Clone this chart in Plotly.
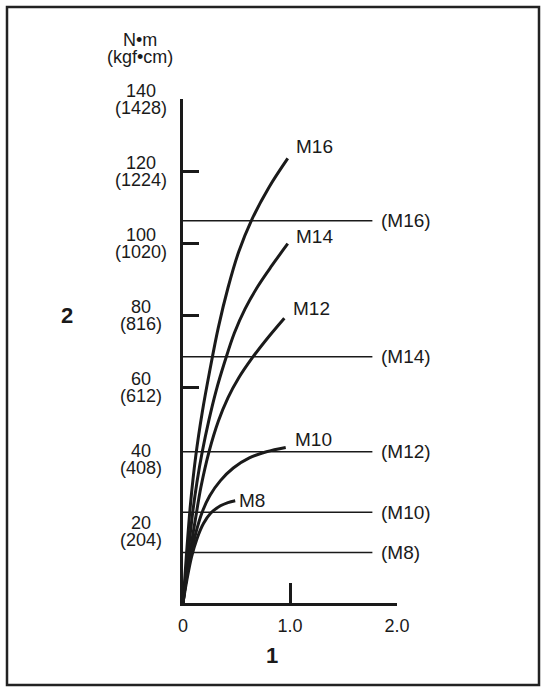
import plotly.graph_objects as go

# ---------------- data ----------------
curve_names = ["M16", "M14", "M12", "M10", "M8"]
m16_x = [0, 0.03, 0.07, 0.12, 0.18, 0.25, 0.33, 0.42, 0.52, 0.64, 0.80, 0.979]
m16_y = [0, 12.5, 27.5, 41, 53, 64.5, 76.5, 87.5, 97.5, 106.3, 115.3, 123.5]
m14_x = [0, 0.025, 0.05, 0.09, 0.13, 0.18, 0.24, 0.31, 0.39, 0.48, 0.58, 0.70, 0.83, 0.979]
m14_y = [0, 7, 14.2, 25, 33.5, 42, 50.5, 59, 67, 75, 81.7, 88, 93.7, 99.8]
m12_x = [0, 0.028, 0.065, 0.126, 0.168, 0.243, 0.33, 0.42, 0.52, 0.64, 0.78, 0.947]
m12_y = [0, 6.4, 13.9, 25.1, 32.3, 42, 50.5, 57, 62.5, 67.8, 73.2, 79.1]
m10_x = [0, 0.03, 0.07, 0.12, 0.18, 0.25, 0.35, 0.47, 0.62, 0.78, 0.96]
m10_y = [0, 6.4, 12.8, 19.5, 25.3, 29.8, 34.0, 37.5, 40.3, 42.0, 43.2]
m8_x = [0, 0.035, 0.08, 0.13, 0.19, 0.26, 0.35, 0.42, 0.488]
m8_y = [0, 6.2, 12.8, 17.8, 22.0, 25.0, 27.0, 27.9, 28.4]

limit_labels = ["(M16)", "(M14)", "(M12)", "(M10)", "(M8)"]
limit_values = [106.2, 68.4, 42.0, 25.2, 14.0]
limit_x_end = 1.77

y_tick_nm = [20, 40, 60, 80, 100, 120, 140]
y_tick_kgf = ["(204)", "(408)", "(612)", "(816)", "(1020)", "(1224)", "(1428)"]
y_tick_marks = [60, 80, 100, 120, 140]
x_tick_vals = [0, 1, 2]
x_tick_text = ["0", "1.0", "2.0"]

unit_top = "N•m"
unit_bottom = "(kgf•cm)"
y_title = "2"
x_title = "1"

# ---------------- style ----------------
FONT = "Liberation Sans, Arial, sans-serif"
INK = "#1a1a1a"
W, H = 546, 691
L, R, T, B = 183, 149, 99, 88
PW, PH = W - L - R, H - T - B

def px_to_paper_x(px):
    return (px - L) / PW

def py_to_paper_y(py):
    return (H - B - py) / PH

curves = [(m16_x, m16_y), (m14_x, m14_y), (m12_x, m12_y), (m10_x, m10_y), (m8_x, m8_y)]
label_shift = {"M16": (6, 12), "M14": (6, 7), "M12": (7, 10), "M10": (7, 8), "M8": (2, 0)}

fig = go.Figure()

for v in limit_values:
    fig.add_trace(go.Scatter(x=[0, limit_x_end], y=[v, v], mode="lines",
                             line=dict(color=INK, width=1.5), hoverinfo="skip",
                             showlegend=False))

for name, (xs, ys) in zip(curve_names, curves):
    fig.add_trace(go.Scatter(x=xs, y=ys, mode="lines", name=name,
                             line=dict(color=INK, width=3, shape="spline", smoothing=1.0),
                             showlegend=False))

annotations = []
for name, (xs, ys) in zip(curve_names, curves):
    dx, dy = label_shift[name]
    annotations.append(dict(x=xs[-1], y=ys[-1], xref="x", yref="y", text=name,
                            showarrow=False, xanchor="left", yanchor="middle",
                            xshift=dx, yshift=dy, font=dict(size=19, color=INK, family=FONT)))

for lab, v in zip(limit_labels, limit_values):
    annotations.append(dict(x=limit_x_end, y=v, xref="x", yref="y", text=lab,
                            showarrow=False, xanchor="left", yanchor="middle",
                            xshift=7, font=dict(size=19, color=INK, family=FONT)))

lab_x = px_to_paper_x(141)
for v, k in zip(y_tick_nm, y_tick_kgf):
    annotations.append(dict(x=lab_x, y=v, xref="paper", yref="y", text=str(v),
                            showarrow=False, xanchor="center", yanchor="middle",
                            yshift=8, font=dict(size=18, color=INK, family=FONT)))
    annotations.append(dict(x=lab_x, y=v, xref="paper", yref="y", text=k,
                            showarrow=False, xanchor="center", yanchor="middle",
                            yshift=-9, font=dict(size=18, color=INK, family=FONT)))

annotations.append(dict(x=px_to_paper_x(140), y=py_to_paper_y(40), xref="paper", yref="paper",
                        text=unit_top, showarrow=False, xanchor="center", yanchor="middle",
                        font=dict(size=18, color=INK, family=FONT)))
annotations.append(dict(x=px_to_paper_x(140), y=py_to_paper_y(57), xref="paper", yref="paper",
                        text=unit_bottom, showarrow=False, xanchor="center", yanchor="middle",
                        font=dict(size=18, color=INK, family=FONT)))
annotations.append(dict(x=px_to_paper_x(66.5), y=py_to_paper_y(315), xref="paper", yref="paper",
                        text="<b>" + y_title + "</b>", showarrow=False, xanchor="center",
                        yanchor="middle", font=dict(size=22, color=INK, family=FONT)))
annotations.append(dict(x=px_to_paper_x(271.5), y=py_to_paper_y(655), xref="paper", yref="paper",
                        text="<b>" + x_title + "</b>", showarrow=False, xanchor="center",
                        yanchor="middle", font=dict(size=22, color=INK, family=FONT)))

fig.update_layout(
    width=W, height=H,
    margin=dict(l=L, r=R, t=T, b=B, pad=0),
    paper_bgcolor="white", plot_bgcolor="white",
    showlegend=False,
    annotations=annotations,
    shapes=[dict(type="rect", xref="paper", yref="paper",
                 x0=px_to_paper_x(7), x1=px_to_paper_x(539),
                 y0=py_to_paper_y(685), y1=py_to_paper_y(7),
                 line=dict(color="#222", width=2.5), fillcolor="rgba(0,0,0,0)", layer="below")],
)

fig.update_xaxes(range=[0, 2], showgrid=False, zeroline=False,
                 showline=True, linecolor=INK, linewidth=3,
                 tickmode="array", tickvals=x_tick_vals, ticktext=x_tick_text,
                 ticks="inside", ticklen=20, tickwidth=3, tickcolor=INK,
                 ticklabelstandoff=4,
                 tickfont=dict(size=18, color=INK, family=FONT), fixedrange=True)
fig.update_yaxes(range=[0, 140], showgrid=False, zeroline=False,
                 showline=True, linecolor=INK, linewidth=3,
                 tickmode="array", tickvals=y_tick_marks,
                 ticks="inside", ticklen=16, tickwidth=3, tickcolor=INK,
                 showticklabels=False, fixedrange=True)

fig.write_html("out.html", config={"displayModeBar": False},
               post_script="document.body.style.margin='0px';document.body.style.overflow='hidden';")
